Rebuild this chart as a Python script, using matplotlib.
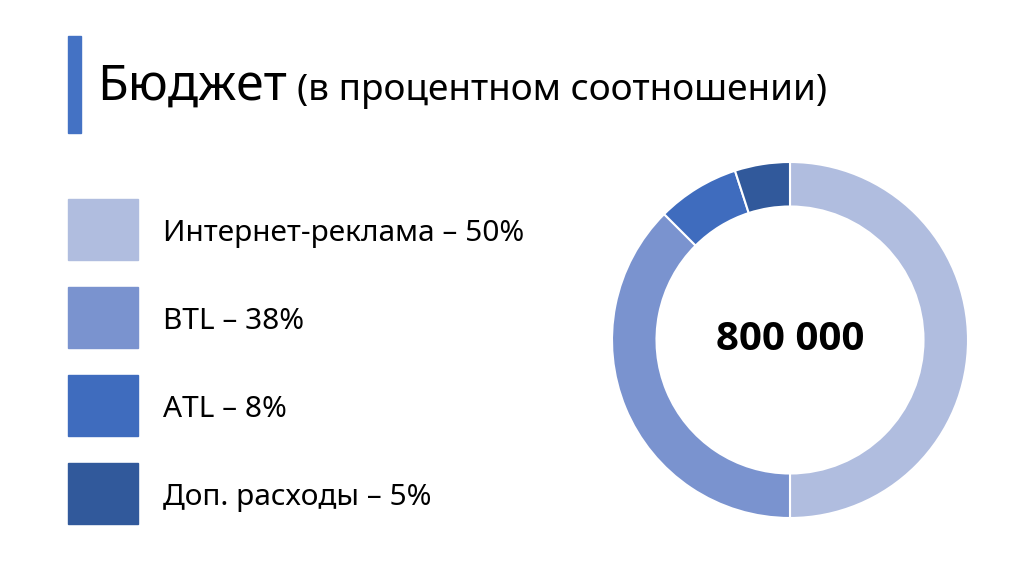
import matplotlib
matplotlib.use('Agg')
import matplotlib.pyplot as plt
from matplotlib.patches import Rectangle

plt.rcParams['font.family'] = ['Noto Sans', 'DejaVu Sans']

# данные
categories = ['Интернет-реклама', 'BTL', 'ATL', 'Доп. расходы']
amounts = [400000, 300000, 60000, 40000]
pct_labels = ['50%', '38%', '8%', '5%']
colors = ['#B0BDDF', '#7A93CF', '#3F6CBE', '#31599B']
total_label = '800 000'

fig = plt.figure(figsize=(10.24, 5.74), dpi=100)

# фон в пиксельных координатах
bg = fig.add_axes([0, 0, 1, 1])
bg.set_xlim(0, 1024)
bg.set_ylim(574, 0)
bg.axis('off')

# заголовок
bg.add_patch(Rectangle((68, 36), 13, 97, color='#4472C4'))
t1 = bg.text(97, 100, 'Бюджет', fontsize=36, va='baseline', ha='left')
fig.canvas.draw()
bb = t1.get_window_extent()
bg.text(97 + bb.width + 10, 100, '(в процентном соотношении)', fontsize=26.6,
        va='baseline', ha='left')

# легенда
for i, (name, pct) in enumerate(zip(categories, pct_labels)):
    y0 = 199 + i * 88
    bg.add_patch(Rectangle((68, y0), 70, 61, color=colors[i]))
    bg.text(163, y0 + 42, f'{name} – {pct}', fontsize=21.5, va='baseline', ha='left')

# кольцевая диаграмма
ax = fig.add_axes([612 / 1024, (574 - 518) / 574, 356 / 1024, 356 / 574])
ax.pie(amounts, colors=colors, startangle=90, counterclock=False, radius=1,
       wedgeprops=dict(width=0.25, edgecolor='white', linewidth=1.5))
ax.set_xlim(-1, 1)
ax.set_ylim(-1, 1)
ax.set_aspect('equal')
ax.text(0, 0, total_label, fontsize=29, fontweight='bold', ha='center', va='center',
        family=['Open Sans', 'DejaVu Sans'])

fig.savefig('out.png', dpi=100)
